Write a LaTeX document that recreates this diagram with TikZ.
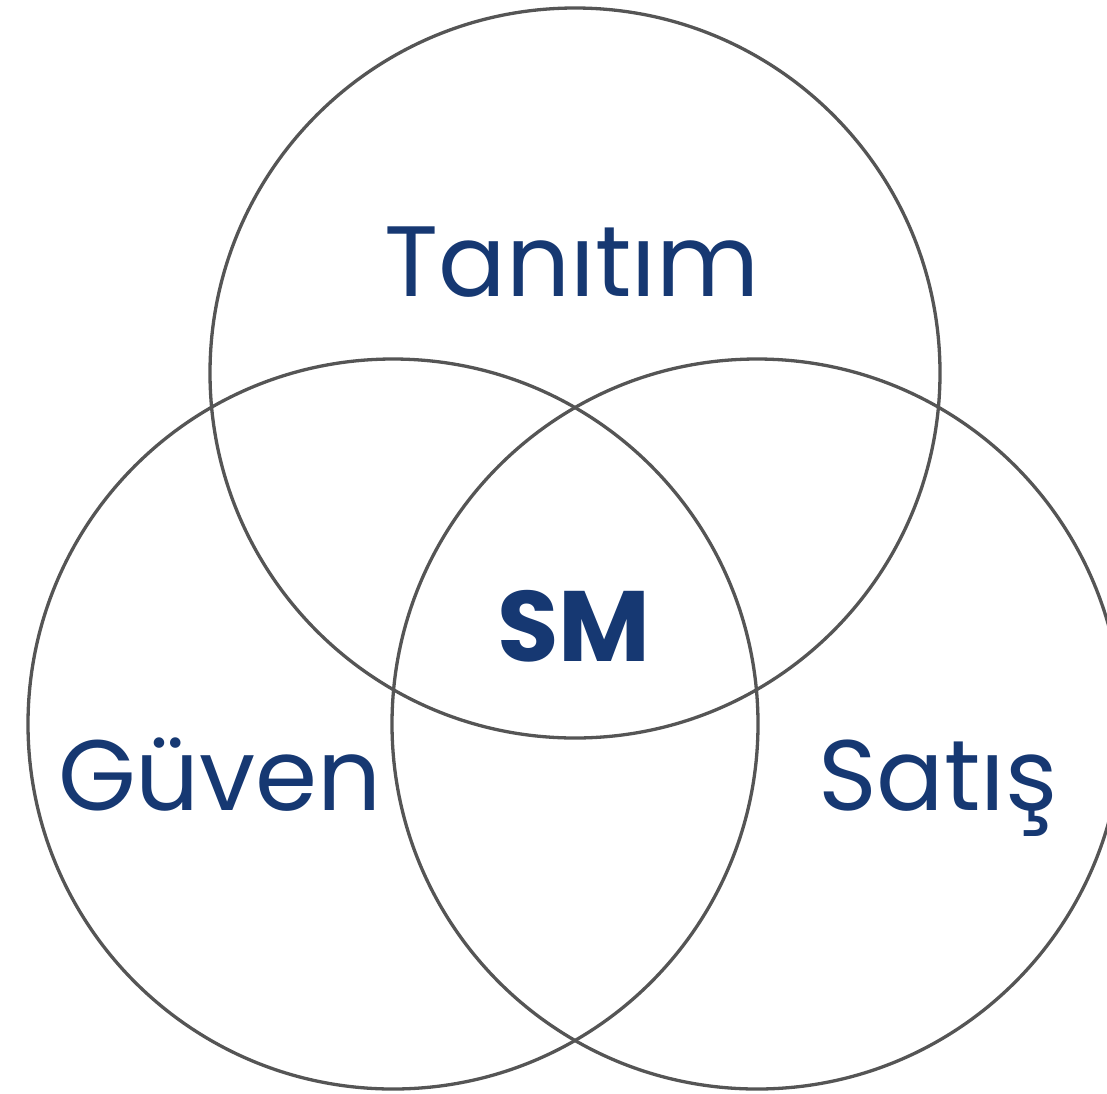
\documentclass[tikz,border=0pt]{standalone}
\usepackage{fontspec}
\setmainfont{Poppins}
\usepackage{tikz}
\usetikzlibrary{positioning}
\definecolor{smblue}{HTML}{163872}
\definecolor{smgray}{HTML}{555555}

\begin{document}
\begin{tikzpicture}[
      x=1pt,y=-1pt,
      ring/.style={circle,draw=smgray,line width=3.3pt,minimum size=730pt,inner sep=0pt},
      label/.style={anchor=base,text=smblue,font=\fontsize{100}{110}\selectfont}
    ]
    \clip (0,0) rectangle (1107,1093);
    \useasboundingbox (0,0) rectangle (1107,1093);
    % three overlapping rings
    \node[ring] (top) at (575,373) {};
    \node[ring] (left) at (393,724) {};
    \node[ring] (right) at (757,724) {};

    \node[label] (tanitim) at (572,296) {Tanıtım};
    \node[label] (guven) at (220,810) {Güven};
    \node[label] (satis) at (938,810) {Satış};
    \node[label,font=\fontsize{100}{110}\selectfont\bfseries] (sm) at (574,661) {SM};
  \end{tikzpicture}
\end{document}
